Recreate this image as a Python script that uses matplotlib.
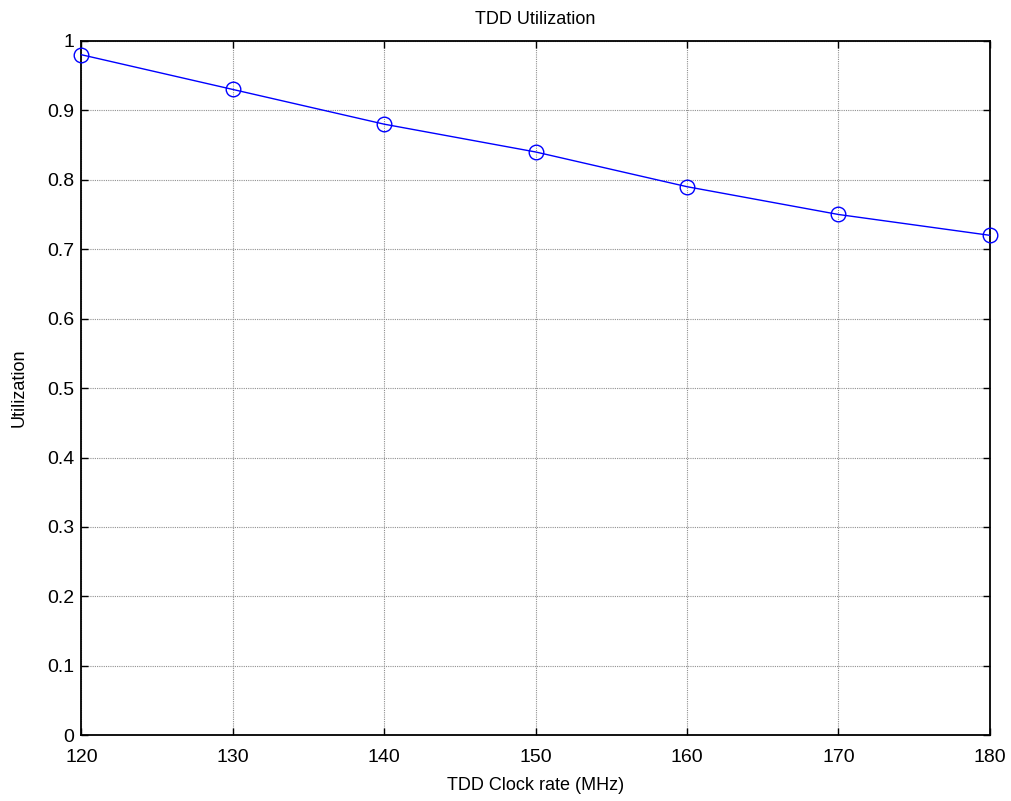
import matplotlib
matplotlib.use("Agg")
import matplotlib.pyplot as plt

clock_mhz = [120, 130, 140, 150, 160, 170, 180]
utilization = [0.98, 0.93, 0.88, 0.84, 0.79, 0.75, 0.72]
x_ticks = [120, 130, 140, 150, 160, 170, 180]
y_ticks = [0, 0.1, 0.2, 0.3, 0.4, 0.5, 0.6, 0.7, 0.8, 0.9, 1]
y_labels = ["0", "0.1", "0.2", "0.3", "0.4", "0.5", "0.6", "0.7", "0.8", "0.9", "1"]

plt.rcParams['font.family'] = ['Liberation Sans', 'DejaVu Sans']

fig = plt.figure(figsize=(10.12, 8.01), dpi=100)
ax = fig.add_axes([0.0805, 0.082, 0.978 - 0.0805, 0.949 - 0.082])

ax.plot(clock_mhz, utilization, color='#0000ff', linewidth=1.0, marker='o',
        markersize=10.5, markerfacecolor='none', markeredgecolor='#0000ff',
        markeredgewidth=1.0, clip_on=False, zorder=3)

ax.set_xlim(120, 180)
ax.set_ylim(0, 1)
ax.set_xticks(x_ticks)
ax.set_yticks(y_ticks)
ax.set_yticklabels(y_labels)
ax.tick_params(direction='in', top=True, right=True, length=5, width=1,
               labelsize=14)
ax.tick_params(axis='x', pad=10)
ax.tick_params(axis='y', pad=5)
ax.grid(True, color='#909090', linestyle=(0, (1, 1)), linewidth=0.8)
for s in ax.spines.values():
    s.set_linewidth(1.3)

ax.set_title("TDD Utilization", fontsize=13, pad=12)
ax.set_xlabel("TDD Clock rate (MHz)", fontsize=13, labelpad=8)
ax.set_ylabel("Utilization", fontsize=13, labelpad=14)

fig.savefig("out.png", dpi=100)
